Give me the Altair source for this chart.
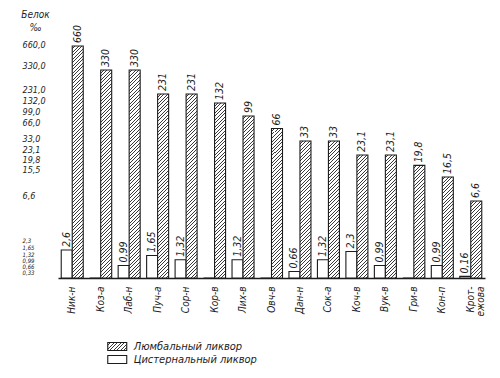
import json
import numpy as np
import altair as alt

# ---------------- data ----------------
categories = ["Ник-н", "Коз-а", "Лаб-н", "Пуч-а", "Сор-н", "Кор-в", "Лих-в", "Овч-в",
              "Дан-н", "Сок-а", "Коч-в", "Вук-в", "Гри-в", "Кон-п", "Крот-ежова"]
lumbar = [660, 330, 330, 231, 231, 132, 99, 66, 33, 33, 23.1, 23.1, 19.8, 16.5, 6.6]
cistern = [2.6, 0, 0.99, 1.65, 1.32, 0, 1.32, 0, 0.66, 1.32, 2.3, 0.99, 0, 0.99, 0.16]
series_names = ["Люмбальный ликвор", "Цистернальный ликвор"]
y_tick_values = [660, 330, 231, 132, 99, 66, 33, 23.1, 19.8, 15.5, 6.6,
                 2.3, 1.65, 1.32, 0.99, 0.66, 0.33]

# ---------------- the book's non-uniform value axis ----------------
PLOT_W, PLOT_H = 427, 258
# value -> bar height in px (piecewise linear scale)
bar_dom = [0, 0.66, 0.99, 1.32, 1.65, 2.3, 2.6, 6.6, 16.5, 19.8, 23.1, 33, 66, 99, 132, 231, 330, 660]
bar_hgt = [0, 6.5, 12.5, 18.3, 22.5, 26.5, 28, 77, 101, 112.6, 123, 137, 149.5, 162, 175, 184, 208, 232]
bar_rng = [PLOT_H - h for h in bar_hgt]
# tick label placement on the printed value column (px from plot top)
lab_pos = {660: 24, 330: 45, 231: 69, 132: 80, 99: 91, 66: 102, 33: 118, 23.1: 129,
           19.8: 139, 15.5: 149, 6.6: 175, 2.3: 220, 1.65: 227, 1.32: 234,
           0.99: 240, 0.66: 246, 0.33: 252}
lab_dom = sorted(y_tick_values)
lab_rng = [lab_pos[v] for v in lab_dom]

BAR_W = 11.0
INK = "#1c1c1c"
FONT = "DejaVu Sans Condensed, DejaVu Sans, sans-serif"


def hatch(w, h, period=3.5, dark=1.0, ink="#3a3a3a", paper="#ffffff"):
    """45-degree '////' hatching as a hard-stop linear gradient for a w x h box."""
    L = w + h
    k = L / (w * w + h * h)
    stops = []
    n = int(np.ceil(L / period))
    for j in range(n):
        a = min(j * period / L, 1)
        b = min((j * period + period - dark) / L, 1)
        c = min((j + 1) * period / L, 1)
        stops += [{"offset": round(a, 5), "color": paper},
                  {"offset": round(b, 5), "color": paper},
                  {"offset": round(b, 5), "color": ink},
                  {"offset": round(c, 5), "color": ink}]
    return {"gradient": "linear", "x1": 0, "y1": 0,
            "x2": round(k * w, 5), "y2": round(k * h, 5), "stops": stops}


def fmt(v):
    return f"{v:g}".replace(".", ",")


records = []
for c, lv, cv in zip(categories, lumbar, cistern):
    records.append({"cat": c, "series": series_names[1], "value": cv,
                    "fill": "#ffffff", "label": fmt(cv) if cv > 0 else ""})
    h = float(np.interp(lv, bar_dom, bar_hgt))
    records.append({"cat": c, "series": series_names[0], "value": lv,
                    "fill": hatch(BAR_W, h), "label": fmt(lv)})

base = alt.Chart(alt.Data(values=records))

x_enc = alt.X("cat:N", sort=categories,
              scale=alt.Scale(paddingInner=0.227, paddingOuter=0.1135),
              axis=alt.Axis(title=None, labelAngle=270, ticks=False, domain=True,
                            domainColor=INK, domainWidth=1.4, labelPadding=8,
                            labelFont=FONT, labelFontStyle="italic", labelFontSize=10,
                            labelColor=INK, labelLineHeight=10,
                            labelExpr="datum.label == 'Крот-ежова' ? ['Крот-', 'ежова'] : datum.label"))
xo_enc = alt.XOffset("series:N", sort=[series_names[1], series_names[0]],
                     scale=alt.Scale(paddingInner=0, paddingOuter=0))
y_enc = alt.Y("value:Q", scale=alt.Scale(type="linear", domain=bar_dom, range=bar_rng,
                                         nice=False), axis=None)

bars = base.mark_bar(stroke=INK, strokeWidth=1.1).encode(
    x=x_enc, xOffset=xo_enc, y=y_enc,
    fill=alt.Fill("fill:N", scale=None),
)

values_txt = base.transform_filter("datum.label != ''").mark_text(
    angle=270, align="left", baseline="middle", dx=3,
    font=FONT, fontStyle="italic", fontSize=10.5, color=INK,
).encode(x=x_enc, xOffset=xo_enc, y=y_enc, text="label:N")

tick_layer = alt.Chart(alt.Data(values=[{"v": v} for v in y_tick_values])).mark_point(
    opacity=0).encode(
    y=alt.Y("v:Q",
            scale=alt.Scale(type="linear", domain=lab_dom, range=lab_rng, nice=False),
            axis=alt.Axis(orient="left", values=y_tick_values, domain=False, ticks=False,
                          grid=False, labelAlign="left", labelPadding=36,
                          labelOverlap=False, labelBound=False, labelFlush=False,
                          labelFont=FONT, labelFontStyle="italic", labelColor=INK,
                          labelFontSize={"condition": {"test": "datum.value < 3", "value": 6},
                                         "value": 9},
                          labelExpr="replace(format(datum.value, datum.value >= 2 ? '.1f' : '.2f'), '.', ',')",
                          title=["Белок", "‰"], titleAngle=0, titleX=-23, titleY=-11,
                          titleAlign="center", titleBaseline="top", titleFont=FONT,
                          titleFontStyle="italic", titleFontWeight="normal",
                          titleFontSize=10, titleColor=INK, titleLineHeight=13))
)

legend_fill = hatch(19, 8)
legend_layer = alt.Chart(alt.Data(values=[])).mark_point(filled=True, opacity=1).encode(
    color=alt.Color("series:N",
                    scale=alt.Scale(domain=series_names,
                                    range=[{"expr": json.dumps(legend_fill)}, "#ffffff"]),
                    legend=alt.Legend(title=None, orient="none", legendX=53.75, legendY=321,
                                      symbolType="M-2,-0.84L2,-0.84L2,0.84L-2,0.84Z",
                                      symbolSize=90, symbolStrokeColor=INK,
                                      symbolStrokeWidth=1.1, labelOffset=11,
                                      labelFont=FONT, labelFontStyle="italic",
                                      labelFontSize=11, labelColor=INK, padding=0,
                                      rowPadding=0))
)

chart = alt.layer(bars, values_txt, tick_layer, legend_layer).resolve_scale(
    y="independent"
).properties(
    width=PLOT_W, height=PLOT_H,
    autosize=alt.AutoSizeParams(type="none"),
    padding={"left": 58, "top": 20, "right": 15, "bottom": 100},
    background="#ffffff",
).configure_view(stroke=None)

chart.save("out.html", embed_options={"renderer": "svg", "actions": False})
